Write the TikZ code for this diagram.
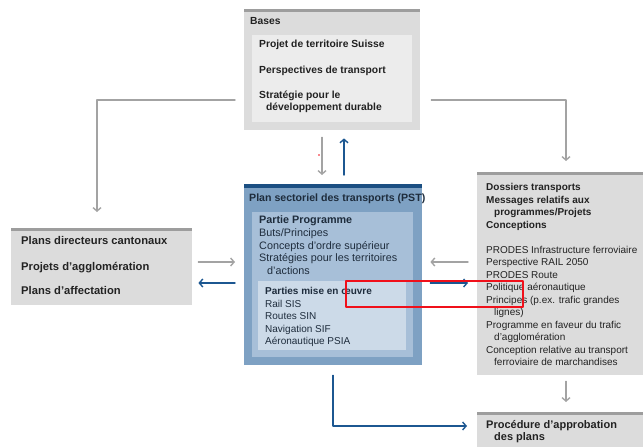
\documentclass[tikz,border=0pt]{standalone}
\usepackage{fontspec}
\setmainfont{Liberation Sans}
\usetikzlibrary{arrows.meta}

\definecolor{boxgrey}{HTML}{DCDCDC}
\definecolor{bargrey}{HTML}{9D9D9D}
\definecolor{innergrey}{HTML}{ECECEC}
\definecolor{pstouter}{HTML}{7EA1C3}
\definecolor{pstbar}{HTML}{1B4F82}
\definecolor{pstinner}{HTML}{A7BFD8}
\definecolor{pstsub}{HTML}{CCDAE8}
\definecolor{arrowblue}{HTML}{1C5791}
\definecolor{arrowgrey}{HTML}{A3A3A3}
\definecolor{textdark}{HTML}{222222}
\definecolor{textblue}{HTML}{1E2C3C}
\definecolor{markred}{HTML}{F0101A}

\begin{document}
\begin{tikzpicture}[x=1pt, y=-1pt, line cap=round, line join=round,
  panel/.style={inner sep=0pt, anchor=north west, draw=none},
  % multi-line texts are placed by the baseline of their last line
  txt/.style={anchor=base west, inner sep=0pt, align=left,
    font=\fontsize{10}{12.5}\selectfont, text=textdark},
  btxt/.style={txt, font=\fontsize{10.3}{12}\selectfont\bfseries},
  garrow/.style={draw=arrowgrey, line width=1.4pt,
    -{Straight Barb[length=3.5pt,width=8pt]}},
  barrow/.style={draw=arrowblue, line width=1.4pt,
    -{Straight Barb[length=3.5pt,width=8pt]}}]
  \useasboundingbox (0,0) rectangle (643,447);

  % Panels (outer boxes first, inner boxes on top)
  \node[panel, fill=boxgrey, minimum width=176, minimum height=121] (bases) at (244,9) {};
  \node[panel, fill=innergrey, minimum width=160, minimum height=87] (basesin) at (252,35) {};
  \node[panel, fill=pstouter, minimum width=178, minimum height=181] (pst) at (244,184) {};
  \node[panel, fill=pstinner, minimum width=161, minimum height=145] (pstin) at (252,212) {};
  \node[panel, fill=pstsub, minimum width=148, minimum height=69] (pstsub) at (258,281) {};
  \node[panel, fill=boxgrey, minimum width=181, minimum height=77] (plans) at (11,228) {};
  \node[panel, fill=boxgrey, minimum width=166, minimum height=203] (dossiers) at (477,172) {};
  \node[panel, fill=boxgrey, minimum width=166, minimum height=35] (procedure) at (477,412) {};

  % Top bars of the panels
  \foreach \b in {bases, plans, dossiers, procedure}
    \fill[bargrey] (\b.north west) rectangle ([yshift=-3pt]\b.north east);
  \fill[pstbar] (pst.north west) rectangle ([yshift=-3.5pt]pst.north east);

  % Bases
  \node[btxt] (tbases) at (250,24.5) {Bases};
  \node[btxt] (tprojet) at (259,47.5) {Projet de territoire Suisse};
  \node[btxt] (tpersp) at (259,73.5) {Perspectives de transport};
  \node[btxt] (tstrat) at (259,110.5)
    {Stratégie pour le\\\hspace*{7pt}développement durable};

  % Plan sectoriel des transports
  \node[txt, text=textblue, font=\fontsize{10.6}{12.5}\selectfont\bfseries] (tpst) at (249,201.5)
    {Plan sectoriel des transports (PST)};
  \node[txt, text=textblue, font=\fontsize{10.8}{12.75}\selectfont] (tprog) at (259,274.5)
    {\textbf{Partie Programme}\\Buts/Principes\\Concepts d’ordre supérieur\\
     Stratégies pour les territoires\\\hspace*{8pt}d’actions};
  \node[txt, text=textblue] (tmise) at (265,344.5)
    {\textbf{Parties mise en œuvre}\\Rail SIS\\Routes SIN\\Navigation SIF\\Aéronautique PSIA};

  % Plans cantonaux
  \node[btxt, font=\fontsize{11.2}{12}\selectfont\bfseries] (tdir) at (21,244.5) {Plans directeurs cantonaux};
  \node[btxt, font=\fontsize{11.2}{12}\selectfont\bfseries] (taggl) at (21,270.5) {Projets d’agglomération};
  \node[btxt, font=\fontsize{11.2}{12}\selectfont\bfseries] (taff) at (21,294.5) {Plans d’affectation};

  % Dossiers transports
  \node[txt] (tdoss) at (486,365.5)
    {\textbf{Dossiers transports}\\\textbf{Messages relatifs aux}\\
     \hspace*{8pt}\textbf{programmes/Projets}\\\textbf{Conceptions}\\[12.5pt]
     PRODES Infrastructure ferroviaire\\Perspective RAIL 2050\\PRODES Route\\
     Politique aéronautique\\Principes (p.ex. trafic grandes\\\hspace*{8pt}lignes)\\
     Programme en faveur du trafic\\\hspace*{8pt}d’agglomération\\
     Conception relative au transport\\\hspace*{8pt}ferroviaire de marchandises};

  % Procedure
  \node[btxt, font=\fontsize{11}{12}\selectfont\bfseries] (tproc) at (486,440.5)
    {Procédure d’approbation\\\hspace*{8pt}des plans};

  % Connectors
  \coordinate (kl) at (97,100);
  \coordinate (kr) at (566,100);
  \coordinate (md) at (322,0);
  \coordinate (mu) at (344,0);
  \coordinate (ga) at (0,262);
  \coordinate (ba) at (0,283);
  \coordinate (bc) at (333,426);

  \draw[garrow] ([xshift=-9pt]bases.west |- kl) -- (kl) -- ([yshift=16pt]plans.north -| kl);
  \draw[garrow] ([xshift=11pt]bases.east |- kr) -- (kr) -- ([yshift=11pt]dossiers.north -| kr);
  \draw[garrow] ([yshift=-7pt]bases.south -| md) -- ([yshift=9pt]pst.north -| md);
  \draw[barrow] ([yshift=9pt]pst.north -| mu) -- ([yshift=-8pt]bases.south -| mu);

  \draw[garrow] ([xshift=6pt]plans.east |- ga) -- ([xshift=-9pt]pst.west |- ga);
  \draw[barrow] ([xshift=-9pt]pst.west |- ba) -- ([xshift=6pt]plans.east |- ba);
  \draw[garrow] ([xshift=-9pt]dossiers.west |- ga) -- ([xshift=8pt]pst.east |- ga);
  \draw[barrow] ([xshift=8pt]pst.east |- ba) -- ([xshift=-9pt]dossiers.west |- ba);

  \draw[barrow] ([yshift=-10pt]pst.south -| bc) -- (bc) -- ([xshift=-10pt]procedure.west |- bc);
  \draw[garrow] ([yshift=-6pt]dossiers.south -| kr) -- ([yshift=10pt]procedure.north -| kr);

  % Red marks
  \draw[draw=markred, line width=1.1pt] (346,281) rectangle (523,307);
  \fill[markred] (319,155) circle (0.9);
\end{tikzpicture}
\end{document}
